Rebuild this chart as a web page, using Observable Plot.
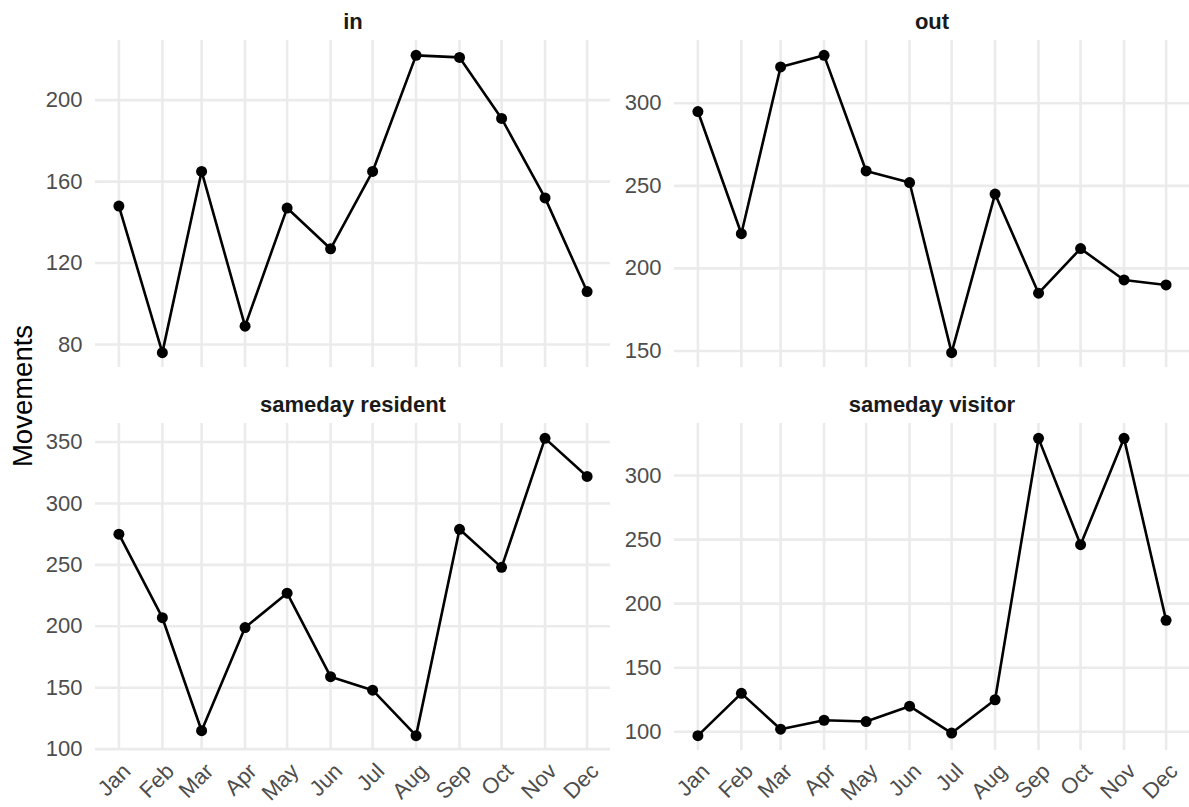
<!DOCTYPE html>
<html>
<head>
<meta charset="utf-8">
<script src="https://cdn.jsdelivr.net/npm/d3@7"></script>
<script src="https://cdn.jsdelivr.net/npm/@observablehq/plot@0.6"></script>
<style>
  html, body { margin: 0; padding: 0; background: #ffffff; }
  #chart { position: relative; width: 1189px; height: 807px; overflow: hidden; font-family: "Liberation Sans", Arial, sans-serif; }
  #chart svg { position: absolute; overflow: visible; }
  #ytitle { position: absolute; left: 23px; top: 396px; transform: translate(-50%, -50%) rotate(-90deg); font-size: 27.5px; color: #000; white-space: nowrap; }
</style>
</head>
<body>
<div id="chart"><div id="ytitle">Movements</div></div>
<script>
// ---- data ----
const months = ["Jan","Feb","Mar","Apr","May","Jun","Jul","Aug","Sep","Oct","Nov","Dec"];
const panelNames = ["in", "out", "sameday resident", "sameday visitor"];
const inValues       = [148, 76, 165, 89, 147, 127, 165, 222, 221, 191, 152, 106];
const outValues      = [295, 221, 322, 329, 259, 252, 149, 245, 185, 212, 193, 190];
const residentValues = [275, 207, 115, 199, 227, 159, 148, 111, 279, 248, 353, 322];
const visitorValues  = [97, 130, 102, 109, 108, 120, 99, 125, 329, 246, 329, 187];
const inTicks       = [80, 120, 160, 200];
const outTicks      = [150, 200, 250, 300];
const residentTicks = [100, 150, 200, 250, 300, 350];
const visitorTicks  = [100, 150, 200, 250, 300];
const yLabel = "Movements";

// ---- build ----
const year = 2019;
const monthDates = months.map((m, i) => new Date(Date.UTC(year, i, 1)));
const seriesValues = [inValues, outValues, residentValues, visitorValues];
const seriesTicks = [inTicks, outTicks, residentTicks, visitorTicks];

function expand([a, b], f = 0.05) {
  const d = (b - a) * f;
  return [a - d, b + d];
}
const xExt = d3.extent(monthDates);
const xDomain = expand([+xExt[0], +xExt[1]]).map(v => new Date(v));

const cols = [
  {left: 0, width: 615, marginLeft: 95, marginRight: 5},
  {left: 615, width: 574, marginLeft: 59, marginRight: 0}
];
const rows = [
  {top: 0, height: 380, marginTop: 40, marginBottom: 13, showX: false},
  {top: 380, height: 427, marginTop: 43, marginBottom: 57, showX: true}
];

const chart = document.getElementById("chart");
document.getElementById("ytitle").textContent = yLabel;
const grid = {stroke: "#ebebeb", strokeOpacity: 1, strokeWidth: 2.6};

panelNames.forEach((name, k) => {
  const col = cols[k % 2], row = rows[Math.floor(k / 2)];
  const data = months.map((m, i) => ({date: monthDates[i], value: seriesValues[k][i]}));
  const yDomain = expand(d3.extent(seriesValues[k]));
  const marks = [
    Plot.gridX(monthDates, grid),
    Plot.gridY(seriesTicks[k], grid),
    Plot.axisY(seriesTicks[k], {tickSize: 0, tickPadding: 13, fontSize: 22, fill: "#4d4d4d", label: null}),
    Plot.line(data, {x: "date", y: "value", stroke: "#000", strokeWidth: 2.6}),
    Plot.dot(data, {x: "date", y: "value", r: 5.5, fill: "#000", stroke: "none"}),
    Plot.text([name], {frameAnchor: "top", dy: -12, lineAnchor: "bottom", fontSize: 22, fontWeight: "bold", fill: "#1a1a1a"})
  ];
  if (row.showX) {
    marks.push(Plot.axisX(monthDates, {
      tickSize: 0, tickPadding: 17, dx: 8, tickRotate: -45, fontSize: 22, fill: "#4d4d4d", label: null,
      tickFormat: d => months[d.getUTCMonth()]
    }));
  }
  const svg = Plot.plot({
    width: col.width,
    height: row.height,
    marginLeft: col.marginLeft,
    marginRight: col.marginRight,
    marginTop: row.marginTop,
    marginBottom: row.marginBottom,
    style: {fontFamily: "'Liberation Sans', Arial, sans-serif", background: "transparent", overflow: "visible"},
    x: {type: "utc", domain: xDomain, axis: null},
    y: {domain: yDomain, axis: null},
    marks
  });
  svg.style.left = col.left + "px";
  svg.style.top = row.top + "px";
  chart.appendChild(svg);
});
</script>
</body>
</html>
